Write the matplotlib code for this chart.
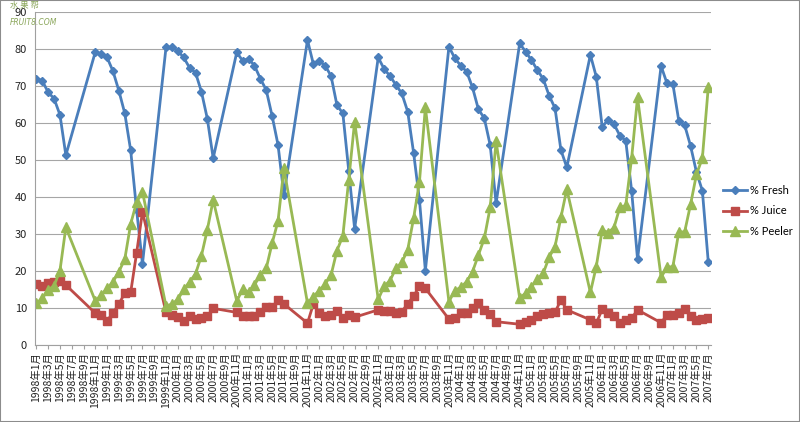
import matplotlib
matplotlib.use('Agg')
import matplotlib.pyplot as plt
from matplotlib.patches import Rectangle

plt.rcParams['font.family'] = ['Noto Sans CJK SC', 'DejaVu Sans']

# months with data (year-month), seasons Nov..Jul
months = ['1998-01', '1998-02', '1998-03', '1998-04', '1998-05', '1998-06',
          '1998-11', '1998-12', '1999-01', '1999-02', '1999-03', '1999-04', '1999-05', '1999-06', '1999-07',
          '1999-11', '1999-12', '2000-01', '2000-02', '2000-03', '2000-04', '2000-05', '2000-06', '2000-07',
          '2000-11', '2000-12', '2001-01', '2001-02', '2001-03', '2001-04', '2001-05', '2001-06', '2001-07',
          '2001-11', '2001-12', '2002-01', '2002-02', '2002-03', '2002-04', '2002-05', '2002-06', '2002-07',
          '2002-11', '2002-12', '2003-01', '2003-02', '2003-03', '2003-04', '2003-05', '2003-06', '2003-07',
          '2003-11', '2003-12', '2004-01', '2004-02', '2004-03', '2004-04', '2004-05', '2004-06', '2004-07',
          '2004-11', '2004-12', '2005-01', '2005-02', '2005-03', '2005-04', '2005-05', '2005-06', '2005-07',
          '2005-11', '2005-12', '2006-01', '2006-02', '2006-03', '2006-04', '2006-05', '2006-06', '2006-07',
          '2006-11', '2006-12', '2007-01', '2007-02', '2007-03', '2007-04', '2007-05', '2007-06', '2007-07']

fresh = [72.0, 71.4, 68.3, 66.6, 62.2, 51.3,
         79.2, 78.6, 77.7, 74.0, 68.7, 62.6, 52.6, 36.6, 21.9,
         80.5, 80.5, 79.5, 77.7, 74.9, 73.6, 68.5, 61.2, 50.5,
         79.1, 76.8, 77.4, 75.5, 72.0, 68.9, 61.9, 54.1, 40.6,
         82.4, 75.9, 76.8, 75.5, 72.7, 64.8, 62.6, 47.1, 31.4,
         77.7, 74.6, 72.7, 70.3, 68.0, 63.1, 52.0, 39.2, 20.1,
         80.6, 77.5, 75.5, 73.9, 69.6, 63.7, 61.3, 54.0, 38.3,
         81.5, 79.3, 77.0, 74.3, 71.9, 67.4, 64.0, 52.7, 48.0,
         78.4, 72.5, 59.0, 60.8, 59.7, 56.6, 55.2, 41.7, 23.2,
         75.4, 70.7, 70.5, 60.6, 59.4, 53.8, 46.7, 41.7, 22.5]

juice = [16.5, 15.9, 16.7, 17.1, 17.3, 16.2,
         8.6, 8.1, 6.6, 8.6, 11.1, 14.0, 14.2, 24.8, 36.0,
         8.8, 8.1, 7.5, 6.6, 7.7, 6.9, 7.2, 7.7, 9.9,
         8.8, 7.7, 7.8, 7.9, 8.8, 10.4, 10.2, 12.2, 11.1,
         5.9, 11.1, 8.6, 7.7, 8.1, 9.3, 7.2, 8.1, 7.5,
         9.5, 9.3, 9.3, 8.7, 9.0, 11.1, 13.2, 15.9, 15.3,
         7.0, 7.2, 8.7, 8.7, 9.9, 11.4, 9.5, 8.4, 6.3,
         5.6, 6.3, 6.8, 7.7, 8.3, 8.6, 8.8, 12.2, 9.5,
         6.8, 5.9, 9.6, 8.7, 7.9, 6.0, 6.8, 7.2, 9.5,
         6.0, 8.1, 8.1, 8.7, 9.7, 7.8, 6.8, 7.0, 7.2]

peeler = [11.3, 12.6, 14.9, 16.0, 20.1, 31.8,
          11.9, 13.5, 15.3, 17.1, 19.8, 23.2, 32.7, 38.6, 41.4,
          10.5, 11.1, 12.3, 15.0, 17.1, 19.2, 24.1, 31.1, 39.2,
          11.9, 15.0, 14.4, 16.2, 18.9, 20.7, 27.5, 33.5, 47.7,
          11.3, 13.1, 14.7, 16.5, 18.9, 25.5, 29.5, 44.6, 60.4,
          12.3, 15.9, 17.4, 20.7, 22.3, 25.7, 34.2, 44.1, 64.2,
          11.7, 14.7, 15.6, 17.1, 19.8, 24.3, 28.8, 37.2, 55.0,
          12.7, 14.0, 15.8, 17.8, 19.4, 23.7, 26.6, 34.5, 42.1,
          14.2, 21.2, 31.1, 30.4, 31.7, 37.2, 37.7, 50.5, 66.9,
          18.3, 21.0, 21.2, 30.5, 30.6, 38.0, 46.1, 50.5, 69.6]

start_year, end_year, end_month = 1998, 2007, 7


def month_index(s):
    y, m = s.split('-')
    return (int(y) - start_year) * 12 + int(m) - 1


x = [month_index(s) for s in months]
last = (end_year - start_year) * 12 + end_month - 1

fig = plt.figure(figsize=(8, 4.22), dpi=100)
ax = fig.add_axes([0.044, 0.1825, 0.845, 0.7891])

ax.plot(x, fresh, color='#4a7ebb', lw=2, marker='D', ms=4.5, label='% Fresh')
ax.plot(x, juice, color='#be4b48', lw=2, marker='s', ms=6, label='% Juice')
ax.plot(x, peeler, color='#98b954', lw=2, marker='^', ms=6.5, label='% Peeler')

ax.set_ylim(0, 90)
ax.set_yticks(range(0, 91, 10))
ax.set_xlim(-0.2, last + 0.5)
ticks = list(range(0, last + 1, 2))
labels = ['%d年%d月' % (start_year + t // 12, t % 12 + 1) for t in ticks]
ax.set_xticks(ticks)
ax.set_xticklabels(labels, rotation=90, fontsize=7.5, color='#222222')
ax.tick_params(axis='y', labelsize=8, colors='#222222', length=0, pad=6)
ax.tick_params(axis='x', length=3, color='#a0a0a0', pad=2)
ax.grid(axis='y', color='#a6a6a6', lw=0.8)
ax.set_axisbelow(True)
for s in ['top', 'right']:
    ax.spines[s].set_visible(False)
ax.spines['left'].set_color('#a0a0a0')
ax.spines['bottom'].set_color('#a0a0a0')

fig.legend(loc='center left', bbox_to_anchor=(0.898, 0.5), frameon=False,
           prop={'family': 'Lato', 'size': 8}, handlelength=2.2, labelspacing=0.85,
           handletextpad=0.2, borderaxespad=0)

# watermark (sits over the top-left corner like in the source image)
fig.text(0.012, 0.998, '水 果 帮', color='#8aa65a', fontsize=6, style='italic', va='top')
fig.text(0.012, 0.958, 'FRUIT8.COM', color='#8aa65a', fontsize=5.5, style='italic', va='top',
         family=['DejaVu Sans'])

fig.patches.append(Rectangle((0, 0), 1, 1, transform=fig.transFigure, fill=False,
                             edgecolor='#8c8c8c', lw=1.5))

fig.savefig('out.png', dpi=100)
